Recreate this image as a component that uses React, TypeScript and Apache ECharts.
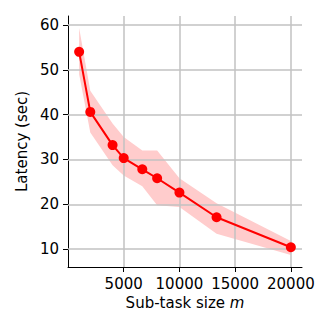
import React, { useEffect, useRef } from "react";
import * as echarts from "echarts";

const subTaskSize = [1000, 2000, 4000, 5000, 6667, 8000, 10000, 13333, 20000];
const latencyMean = [54.0, 40.6, 33.2, 30.3, 27.8, 25.8, 22.6, 17.1, 10.4];
const latencyLower = [49.0, 36.0, 28.7, 26.4, 24.0, 19.8, 19.4, 13.4, 8.7];
const latencyUpper = [59.3, 45.3, 38.0, 35.0, 32.0, 32.0, 25.8, 20.2, 11.8];
const xTicks = [5000, 10000, 15000, 20000];
const yTicks = [10, 20, 30, 40, 50, 60];

const FONT = "DejaVu Sans";
const GRID_COLOR = "#c2c2c2";
const GRID_WIDTH = 1.5;

export default function App() {
  const ref = useRef<HTMLDivElement>(null);
  useEffect(() => {
    if (!ref.current) return;
    const chart = echarts.init(ref.current, null, { renderer: "svg" });
    const bandData = subTaskSize.map((x, i) => [x, latencyLower[i], latencyUpper[i]]);
    const meanData = subTaskSize.map((x, i) => [x, latencyMean[i]]);
    chart.setOption({
      animation: false,
      backgroundColor: "#ffffff",
      grid: { left: 68, top: 16, width: 234, height: 251 },
      xAxis: {
        type: "value",
        min: 0,
        max: 21000,
        interval: 5000,
        name: "Sub-task size {i|m}",
        nameLocation: "middle",
        nameGap: 28,
        nameTextStyle: {
          fontFamily: FONT,
          fontSize: 15,
          color: "#000",
          verticalAlign: "top",
          rich: { i: { fontFamily: FONT, fontStyle: "italic", fontSize: 15, color: "#000" } },
        },
        axisLine: { show: true, onZero: false, lineStyle: { color: "#000", width: 1 } },
        axisTick: { show: true, length: 5, customValues: xTicks, lineStyle: { color: "#000", width: 1 } },
        axisLabel: {
          customValues: xTicks,
          formatter: (v: number) => String(v),
          margin: 9,
          fontFamily: FONT,
          fontSize: 15,
          color: "#000",
        },
        splitLine: { show: true, lineStyle: { color: GRID_COLOR, width: GRID_WIDTH } },
      },
      yAxis: {
        type: "value",
        min: 6,
        max: 62,
        name: "Latency (sec)",
        nameLocation: "middle",
        nameRotate: 90,
        nameGap: 36,
        nameTextStyle: { fontFamily: FONT, fontSize: 15, color: "#000" },
        axisLine: { show: true, onZero: false, lineStyle: { color: "#000", width: 1 } },
        axisTick: { show: true, length: 5, customValues: yTicks, lineStyle: { color: "#000", width: 1 } },
        axisLabel: {
          customValues: yTicks,
          formatter: (v: number) => String(v),
          margin: 9,
          fontFamily: FONT,
          fontSize: 15,
          color: "#000",
        },
        splitLine: { show: false },
      },
      series: [
        {
          type: "custom",
          data: bandData,
          silent: true,
          z: -1,
          renderItem: (params: any, api: any) => {
            if (params.dataIndex !== 0) return null;
            const upperPts = subTaskSize.map((x, i) => api.coord([x, latencyUpper[i]]));
            const lowerPts = subTaskSize
              .map((x, i) => api.coord([x, latencyLower[i]]))
              .reverse();
            return {
              type: "polygon",
              shape: { points: upperPts.concat(lowerPts) },
              style: { fill: "#ffcccc", stroke: "none" },
            };
          },
          markLine: {
            silent: true,
            symbol: "none",
            label: { show: false },
            lineStyle: { color: GRID_COLOR, width: GRID_WIDTH, type: "solid" },
            data: yTicks.map((v) => ({ yAxis: v })),
          },
        },
        {
          type: "line",
          data: meanData,
          symbol: "circle",
          symbolSize: 10,
          lineStyle: { color: "#ff0000", width: 2 },
          itemStyle: { color: "#ff0000" },
          z: 5,
        },
      ],
    });
    return () => chart.dispose();
  }, []);
  return (
    <div
      ref={ref}
      style={{ position: "fixed", left: 0, top: 0, width: 332, height: 332 }}
    />
  );
}
